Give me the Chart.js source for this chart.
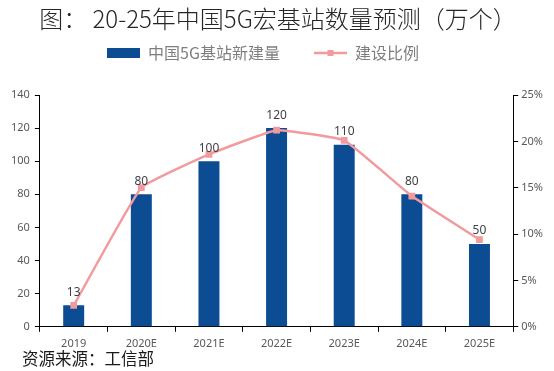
<!DOCTYPE html>
<html><head><meta charset="utf-8">
<script src="https://cdn.jsdelivr.net/npm/chart.js@4"></script>
<style>html,body{margin:0;padding:0;background:#fff;}canvas{display:block;}</style>
</head><body>
<canvas id="c" width="554" height="371"></canvas>
<script>
const categories = ['2019','2020E','2021E','2022E','2023E','2024E','2025E'];
const newStations = [13, 80, 100, 120, 110, 80, 50];
const buildRatio = [0.023, 0.150, 0.186, 0.212, 0.201, 0.141, 0.094];
const leftTicks = [0,20,40,60,80,100,120,140];
const rightTicks = [0,0.05,0.10,0.15,0.20,0.25];

const titleText = '图： 20-25年中国5G宏基站数量预测（万个）';
const sourceText = '资源来源：工信部';
const CJK = '"Noto Sans CJK SC", "Noto Sans", sans-serif';
const BLUE = '#0B4C93';
const PINK = '#F29A9E';

function makeIcon(kind){
  const cv = document.createElement('canvas');
  cv.width = 33; cv.height = 10;
  const g = cv.getContext('2d');
  if(kind==='bar'){ g.fillStyle = BLUE; g.fillRect(0,0,33,10); }
  else { g.strokeStyle = PINK; g.lineWidth = 2.5; g.beginPath(); g.moveTo(0,5); g.lineTo(33,5); g.stroke(); g.fillStyle = PINK; g.fillRect(13.5,2,6,6); }
  return cv;
}

const legendSpace = {
  id: 'legendSpace',
  beforeUpdate(chart){
    const lg = chart.legend;
    if (lg && !lg._patched){
      const orig = lg.fit;
      lg.fit = function(){ orig.call(this); this.height += 24; };
      lg._patched = true;
    }
  },
  afterLayout(chart){
    const lg = chart.legend;
    if (lg){ lg.left -= 13; lg.right -= 13; }
  }
};

const extraText = {
  id: 'extraText',
  afterDraw(chart){
    const ctx = chart.ctx;
    ctx.save();
    ctx.fillStyle = '#262626';
    ctx.font = 'normal 300 24px ' + CJK;
    ctx.textAlign = 'center'; ctx.textBaseline = 'middle';
    ctx.fillText(titleText, 278, 19);
    ctx.fillStyle = '#1a1a1a';
    ctx.font = 'normal 400 16.5px ' + CJK;
    ctx.textAlign = 'left';
    ctx.fillText(sourceText, 22, 359);
    // data labels
    const meta = chart.getDatasetMeta(1);
    ctx.font = '12px "Noto Sans", sans-serif';
    ctx.fillStyle = '#404040';
    ctx.textAlign = 'center'; ctx.textBaseline = 'bottom';
    meta.data.forEach((el,i)=>{ ctx.fillText(String(newStations[i]), el.x, el.y - 7); });
    ctx.restore();
  }
};

new Chart(document.getElementById('c'), {
  data: {
    labels: categories,
    datasets: [
      { type:'line', label:'建设比例', data: buildRatio, yAxisID:'y1', borderColor: PINK, backgroundColor: PINK,
        borderWidth: 2.5, pointStyle:'rect', pointRadius: 3, tension: 0.1, order: 0 },
      { type:'bar', label:'中国5G基站新建量', data: newStations, yAxisID:'y', backgroundColor: BLUE,
        barPercentage: 0.31, categoryPercentage: 1.0, order: 1 }
    ]
  },
  options: {
    responsive: false, animation: false, devicePixelRatio: 1,
    layout: { padding: { left: 6, right: 8, top: 11, bottom: 16 } },
    plugins: {
      title: { display: false },
      tooltip: { enabled: false },
      legend: {
        position: 'top',
        labels: {
          usePointStyle: true, pointStyleWidth: 33, boxHeight: 10,
          padding: 34, color: '#7f7f7f', font: { family: CJK, size: 16 },
          sort: (a,b) => b.datasetIndex - a.datasetIndex,
          generateLabels(chart){
            return chart.data.datasets.map((d,i)=>({
              text: d.label, datasetIndex: i, pointStyle: makeIcon(d.type==='bar'?'bar':'line'),
              fillStyle: 'transparent', strokeStyle: 'transparent', lineWidth: 0, fontColor: '#7f7f7f', hidden: false
            }));
          }
        }
      }
    },
    scales: {
      x: {
        offset: true,
        grid: { display: true, drawOnChartArea: false, offset: true, tickLength: 5, color: '#000' },
        border: { color: '#000', width: 1 },
        ticks: { color: '#595959', font: { family: '"Noto Sans", sans-serif', size: 11 }, padding: 5 }
      },
      y: {
        position: 'left', min: 0, max: 140,
        afterBuildTicks(s){ s.ticks = leftTicks.map(v=>({value:v})); },
        grid: { drawOnChartArea: false, tickLength: 5, color: '#000' },
        border: { color: '#000', width: 1 },
        ticks: { color: '#595959', font: { family: '"Noto Sans", sans-serif', size: 11 }, padding: 5 }
      },
      y1: {
        position: 'right', min: 0, max: 0.25,
        afterBuildTicks(s){ s.ticks = rightTicks.map(v=>({value:v})); },
        grid: { drawOnChartArea: false, tickLength: 5, color: '#000' },
        border: { color: '#000', width: 1 },
        ticks: { color: '#595959', font: { family: '"Noto Sans", sans-serif', size: 11 }, padding: 3,
          callback: v => Math.round(v*100) + '%' }
      }
    }
  },
  plugins: [legendSpace, extraText]
});
</script>
</body></html>
